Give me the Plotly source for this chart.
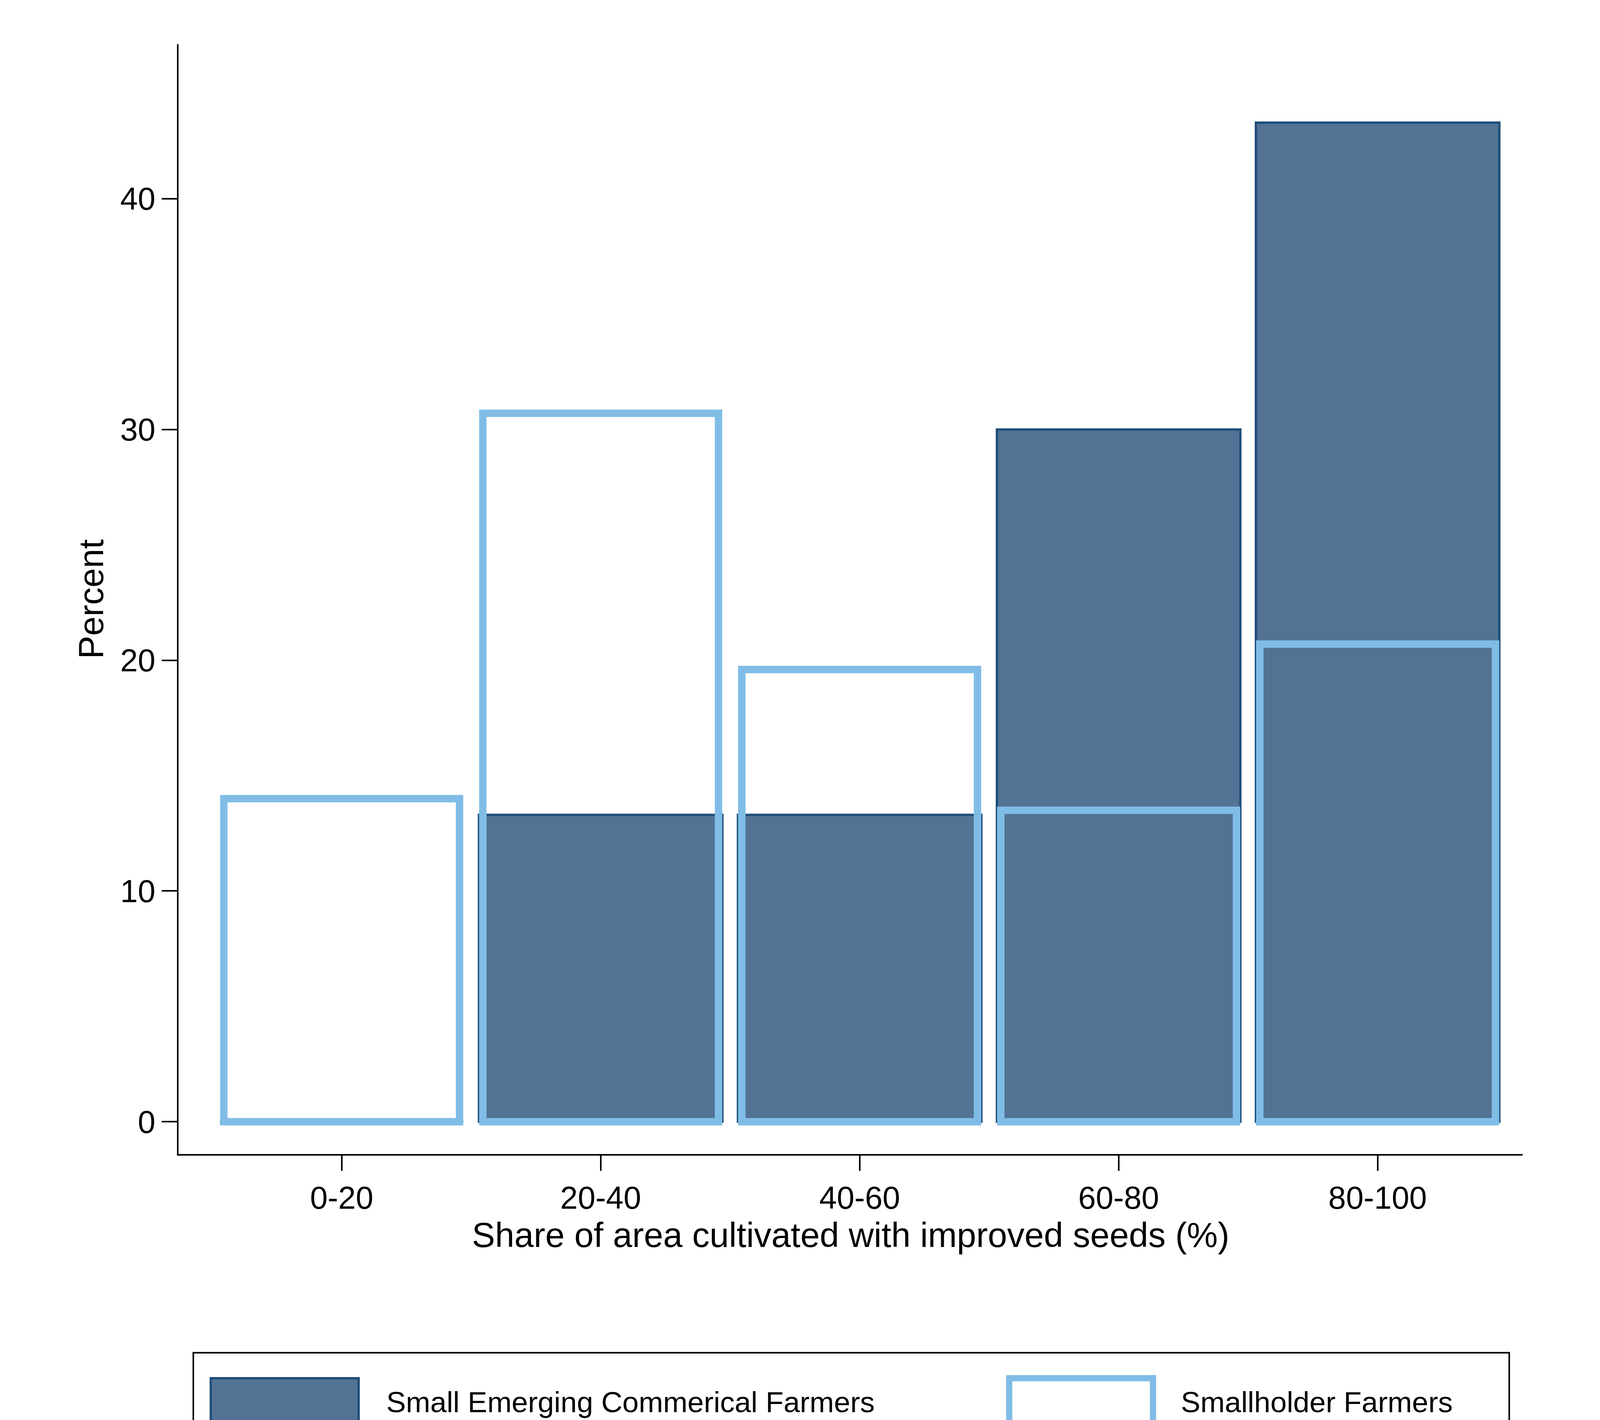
import plotly.graph_objects as go

categorias = ["0-20", "20-40", "40-60", "60-80", "80-100"]
emerging = [0, 13.3, 13.3, 30.0, 43.3]
smallholder = [14.0, 30.7, 19.6, 13.5, 20.7]

dark = "#527394"
dark_line = "#1f4e79"
light = "#80bde6"

fig = go.Figure()
fig.add_trace(go.Bar(x=categorias, y=emerging, name="Small Emerging Commerical Farmers",
                     marker=dict(color=dark, line=dict(color=dark_line, width=6)),
                     width=0.94))
fig.add_trace(go.Bar(x=categorias, y=smallholder, name="Smallholder Farmers",
                     marker=dict(color="rgba(0,0,0,0)", line=dict(color=light, width=19)),
                     width=0.91))

# leyenda dibujada a mano (cajas anchas como en el original)
fig.add_shape(type="rect", xref="paper", yref="paper", x0=0.011, x1=0.990, y0=-0.264, y1=-0.179,
              line=dict(color="black", width=4), fillcolor="white")
fig.add_shape(type="rect", xref="paper", yref="paper", x0=0.024, x1=0.134, y0=-0.245, y1=-0.202,
              line=dict(color=dark_line, width=6), fillcolor=dark)
fig.add_shape(type="rect", xref="paper", yref="paper", x0=0.618, x1=0.725, y0=-0.245, y1=-0.202,
              line=dict(color=light, width=16), fillcolor="white")
fig.add_annotation(text="Small Emerging Commerical Farmers", xref="paper", yref="paper",
                   x=0.154, y=-0.2235, xanchor="left", yanchor="middle", showarrow=False,
                   font=dict(size=75))
fig.add_annotation(text="Smallholder Farmers", xref="paper", yref="paper",
                   x=0.745, y=-0.2235, xanchor="left", yanchor="middle", showarrow=False,
                   font=dict(size=75))

fig.update_layout(
    barmode="overlay",
    autosize=True,
    plot_bgcolor="white", paper_bgcolor="white",
    font=dict(family="Liberation Sans, Arial", size=81, color="black"),
    margin=dict(l=449, r=190, t=105, b=689),
    xaxis=dict(range=[-0.63, 4.56], showline=True, linecolor="black", linewidth=4,
               ticks="outside", ticklen=39, tickwidth=4, tickcolor="black",
               title=dict(text="Share of area cultivated with improved seeds (%)", font=dict(size=89))),
    yaxis=dict(range=[-1.4, 46.7], showline=True, linecolor="black", linewidth=4,
               showgrid=False, zeroline=False, tickvals=[0, 10, 20, 30, 40],
               ticks="outside", ticklen=39, tickwidth=4, tickcolor="black",
               title=dict(text="Percent", font=dict(size=89))),
    showlegend=False,
)
fig.write_html("out.html", default_width="100%", default_height="100vh",
               config={"responsive": True})
